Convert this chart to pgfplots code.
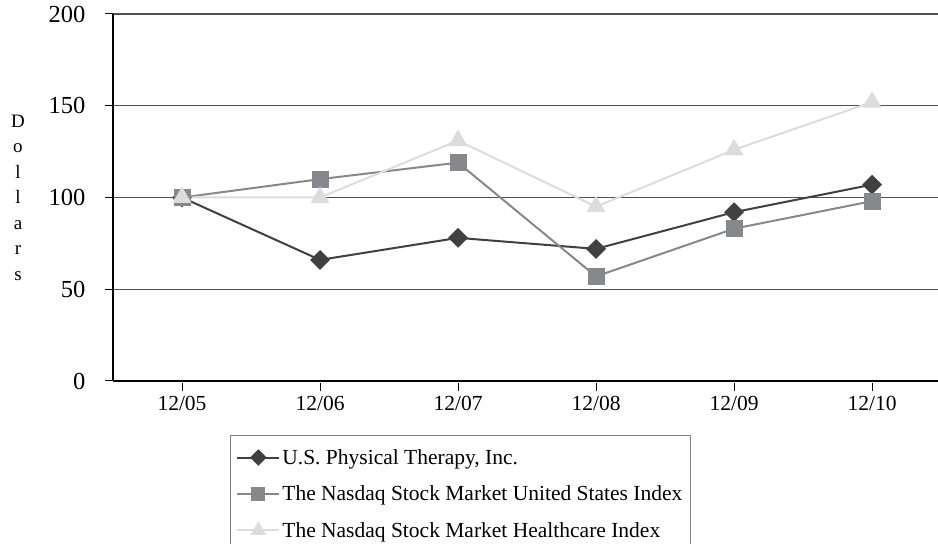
\documentclass[border=0pt]{standalone}
\usepackage{fontspec}
\setmainfont{Liberation Serif}
\usepackage{pgfplots}
\pgfplotsset{compat=1.18}

\definecolor{usptcol}{HTML}{404040}
\definecolor{nasdaqcol}{HTML}{87888C}
\definecolor{healthcol}{HTML}{DCDCDC}
\definecolor{gridcol}{HTML}{505050}

\begin{document}
\begin{tikzpicture}
\useasboundingbox (0pt,0pt) rectangle (938pt,544pt);
\begin{axis}[
  at={(113pt,163pt)}, anchor=south west,
  scale only axis, width=825pt, height=367pt,
  xmin=-0.5, xmax=5.478, ymin=0, ymax=200,
  axis x line=bottom, axis y line=left,
  axis line style={-, black, line width=1.2pt},
  xtick={0,1,2,3,4,5},
  xticklabels={12/05,12/06,12/07,12/08,12/09,12/10},
  ytick={0,50,100,150,200},
  /pgf/number format/assume math mode=true,
  major tick length=8pt, tick align=outside,
  tick style={line width=1pt, black},
  xtick style={yshift=-2pt},
  ymajorgrids, grid style={gridcol, line width=1.2pt},
  xticklabel style={font=\fontsize{21.5}{24}\selectfont, yshift=-4pt},
  yticklabel style={font=\fontsize{24.5}{28}\selectfont, xshift=-16pt},
  ylabel={D\\o\\l\\l\\a\\r\\s},
  ylabel style={rotate=-90, align=center, at={(rel axis cs:0,0.5)}, anchor=center,
    xshift=-95pt, font=\fontsize{19}{25.5}\selectfont},
  clip=false,
  legend cell align=left,
  legend style={at={(rel axis cs:0.1418,-0.147)}, anchor=north west,
    draw=gray, line width=0.8pt, fill=white,
    font=\fontsize{21.5}{26}\selectfont, row sep=16pt,
    inner xsep=6pt, inner ysep=12pt},
  legend image code/.code={
    \draw[mark repeat=2, mark phase=2, #1, every mark/.append style={scale=0.8}]
      plot coordinates {(0pt,0pt) (21pt,0pt) (42pt,0pt)};
  },
]
\addplot[usptcol, line width=2pt, mark=square*, mark size=6pt,
  mark options={rotate=45, solid}]
  coordinates {(0,100) (1,66) (2,78) (3,72) (4,92) (5,107)};
\addlegendentry{U.S. Physical Therapy, Inc.}
\addplot[nasdaqcol, line width=2pt, mark=square*, mark size=7.5pt,
  mark options={solid}]
  coordinates {(0,100) (1,110) (2,119) (3,57) (4,83) (5,98)};
\addlegendentry{The Nasdaq Stock Market United States Index}
\addplot[healthcol, line width=2pt, mark=triangle*, mark size=9pt,
  mark options={solid}]
  coordinates {(0,100) (1,100) (2,131) (3,95) (4,126) (5,152)};
\addlegendentry{The Nasdaq Stock Market Healthcare Index}
\end{axis}
\end{tikzpicture}
\end{document}
